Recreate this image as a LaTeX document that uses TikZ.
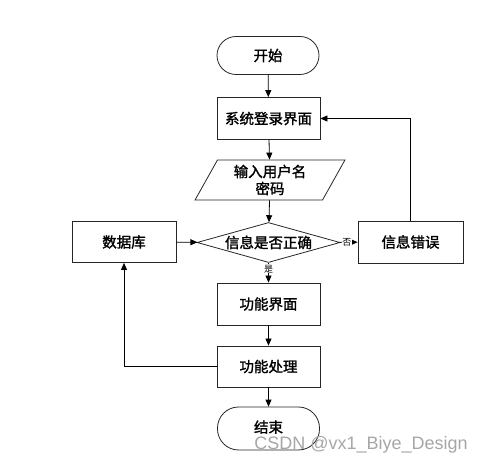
\documentclass[tikz,border=0pt]{standalone}
\usepackage{fontspec}
\setmainfont{Liberation Sans}
\newfontfamily\cjk{Noto Sans CJK SC}[FakeBold=1.6]
\newfontfamily\cjklab{Noto Sans CJK SC}
\usetikzlibrary{arrows.meta,shapes.geometric}
\begin{document}
\begin{tikzpicture}[x=1pt,y=-1pt,
  every node/.style={font=\cjk\fontsize{14.5}{17}\selectfont},
  box/.style={draw=black!85,line width=0.8pt,minimum width=103pt,minimum height=42pt,inner sep=0pt},
  term/.style={draw=black!85,line width=0.8pt,rounded corners=19pt,minimum width=102pt,minimum height=38pt,inner sep=0pt},
  para/.style={draw=black!85,line width=0.8pt,trapezium,trapezium stretches=true,trapezium left angle=63,trapezium right angle=117,minimum width=150pt,minimum height=40pt,inner sep=0pt,align=center},
  dia/.style={draw=black!85,line width=0.8pt,diamond,aspect=3.6,minimum width=143pt,minimum height=40pt,inner sep=0pt},
  arr/.style={draw=black,line width=0.8pt,-{Triangle[length=7pt,width=6pt]}},
  lab/.style={font=\cjklab\fontsize{9}{10}\selectfont,fill=white,inner sep=0.5pt}]
\useasboundingbox (0,0) rectangle (482,462);
\node[term] (start) at (268,55.5) {开始};
\node[box] (login) at (268.5,118.5) {系统登录界面};
\node[para] (input) at (270,180) {输入用户名\\密码};
\node[dia] (check) at (268.5,242.5) {信息是否正确};
\node[box,minimum width=105pt] (err) at (410.5,242) {信息错误};
\node[box,minimum width=104pt,minimum height=41pt] (db) at (124,242) {数据库};
\node[box,minimum height=42pt] (func) at (268.5,304) {功能界面};
\node[box,minimum height=41pt] (proc) at (268.5,366.5) {功能处理};
\node[term,minimum height=43pt,rounded corners=21pt] (end) at (268.5,428.5) {\raisebox{4pt}{结束}};
\draw[arr] (start) -- (login);
\draw[arr] (login) -- (input);
\draw[arr] (input) -- (check);
\draw[arr] (check) -- node[lab,pos=0.4]{否} (err);
\draw[arr] (check) -- node[lab,pos=0.3]{是} (func);
\draw[arr] (db) -- (check);
\draw[arr] (func) -- (proc);
\draw[arr] (proc) -- (end);
\draw[arr] (err.north) |- (login.east);
\draw[arr] (proc.west) -| (db.south);
\node[font=\fontsize{18}{20}\selectfont,text=black!35,anchor=base east,inner sep=0pt] (wm) at (468,449) {CSDN @vx1\_Biye\_Design};
\end{tikzpicture}
\end{document}
